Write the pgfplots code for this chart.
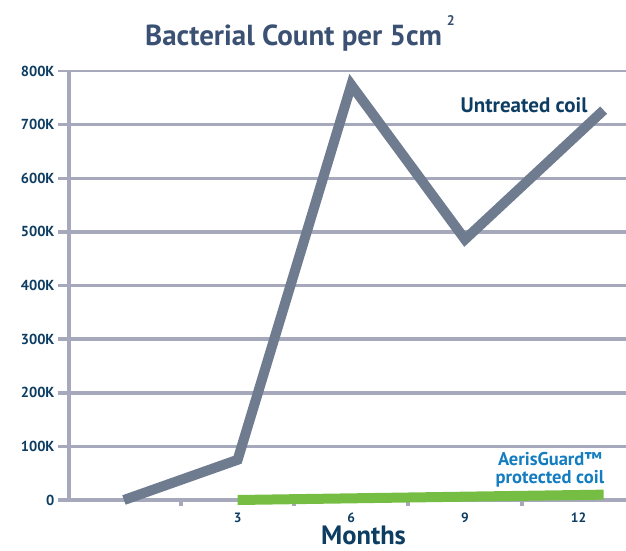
\documentclass[border=0pt]{standalone}
\usepackage{pgfplots}
\pgfplotsset{compat=1.18}
\usepackage{fontspec}
\setmainfont{PT Sans}
\definecolor{gridc}{RGB}{165,169,187}
\definecolor{linec}{RGB}{111,123,143}
\definecolor{navy}{RGB}{13,61,99}
\definecolor{titlec}{RGB}{59,81,115}
\definecolor{greenc}{RGB}{118,190,67}
\definecolor{bluec}{RGB}{20,125,192}
\begin{document}
\begin{tikzpicture}
\useasboundingbox (-69pt,-50pt) rectangle (557pt,500pt);
\begin{axis}[
  at={(0pt,0pt)}, anchor=south west,
  scale only axis, width=557pt, height=429pt,
  xmin=-1.45, xmax=13.25, ymin=0, ymax=800,
  clip=false,
  axis x line*=bottom,
  axis y line*=left,
  x axis line style={draw=none, -},
  y axis line style={line width=4pt, color=gridc, -},
  xtick={3,6,9,12},
  xticklabels={3,6,9,12},
  minor xtick={-1.5,1.5,4.5,7.5,10.5},
  ytick={0,100,...,700},
  yticklabels={0,100K,200K,300K,400K,500K,600K,700K},
  extra y ticks={800},
  extra y tick labels={800K},
  extra y tick style={major y grid style={line width=1.8pt, color=gridc}, ytick style={line width=1.8pt, color=gridc}},
  ymajorgrids,
  major y grid style={line width=3.5pt, color=gridc},
  tick align=outside,
  major tick length=11pt,
  minor tick length=6pt,
  major x tick style={draw=none},
  minor x tick style={line width=4pt, color=gridc},
  ytick style={line width=3.5pt, color=gridc},
  yticklabel style={font=\fontsize{14.5}{14.5}\selectfont\bfseries, text=navy, anchor=east, xshift=0pt},
  xticklabel style={font=\fontsize{13.5}{13.5}\selectfont\bfseries, text=navy, anchor=base, yshift=-11pt, inner sep=1pt},
  /pgf/number format/assume math mode=true,
]
\addplot[line width=4pt, color=gridc, forget plot] coordinates {(-1.45,0) (13.25,0)};
\addplot[line width=10pt, color=linec, line join=miter, line cap=butt] coordinates {(0,0) (3,75) (6,774) (9,486) (12.66,727)};
\addplot[line width=10pt, color=greenc, line cap=butt] coordinates {(3,0) (12.66,10)};
\end{axis}
\node[anchor=base, text=titlec, font=\fontsize{29}{29}\selectfont\bfseries] at (231pt,454pt) {Bacterial Count per 5cm\,\raisebox{20pt}{\fontsize{14}{14}\selectfont\bfseries 2}};
\node[anchor=base east, text=navy, font=\fontsize{21}{21}\selectfont\bfseries] at (522pt,388pt) {Untreated coil};
\node[anchor=base, text=bluec, font=\fontsize{18.5}{18.5}\selectfont\bfseries] at (481pt,35pt) {AerisGuard™};
\node[anchor=base, text=bluec, font=\fontsize{18.5}{18.5}\selectfont\bfseries] at (481pt,17pt) {protected coil};
\node[anchor=base, text=navy, font=\fontsize{26.5}{26.5}\selectfont\bfseries, inner sep=1pt] at (294.5pt,-44.5pt) {Months};
\end{tikzpicture}
\end{document}
